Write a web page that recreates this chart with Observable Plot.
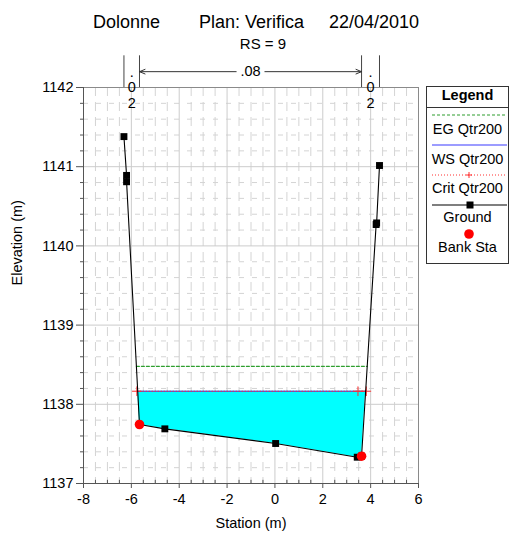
<!DOCTYPE html>
<html>
<head>
<meta charset="utf-8">
<script src="https://cdn.jsdelivr.net/npm/d3@7"></script>
<script src="https://cdn.jsdelivr.net/npm/@observablehq/plot@0.6"></script>
<style>
  body { margin: 0; background: #fff; }
  #wrap { position: relative; width: 512px; height: 541px; font-family: "Liberation Sans", Arial, sans-serif; }
  #wrap svg { position: absolute; left: 0; top: 0; }
</style>
</head>
<body>
<div id="wrap"></div>
<script>
// ---- data ----
const groundStation = [-6.31, -6.20, -6.20, -5.66, -4.60, 0.03, 3.44, 3.62, 4.23, 4.25, 4.37];
const groundElev    = [1141.38, 1140.89, 1140.81, 1137.745, 1137.69, 1137.505, 1137.332, 1137.345, 1140.27, 1140.29, 1141.015];
const bankStation   = [-5.66, 3.62];
const bankElev      = [1137.745, 1137.345];
const wsElev   = 1138.165;   // WS Qtr200
const egElev   = 1138.48;    // EG Qtr200
const critElev = 1138.165;   // Crit Qtr200
const critStation = [-5.77, 3.47, 3.82];
const manningN = [".02", ".08", ".02"];
const xTicks = [-8, -6, -4, -2, 0, 2, 4, 6];
const yTicks = [1137, 1138, 1139, 1140, 1141, 1142];
const titleParts = ["Dolonne", "Plan: Verifica", "22/04/2010"];
const subtitle = "RS = 9";
const legendLabels = ["EG Qtr200", "WS Qtr200", "Crit Qtr200", "Ground", "Bank Sta"];

// ---- derived tables ----
const ground = groundStation.map((s, i) => ({x: s, y: groundElev[i]}));
const banks = bankStation.map((s, i) => ({x: s, y: bankElev[i]}));
const iL = groundStation.indexOf(bankStation[0]);
const iR = groundStation.indexOf(bankStation[1]);

function edges(elev) {
  let left, right;
  for (let i = iL; i > 0; i--) {
    const a = ground[i], b = ground[i - 1];
    if (b.y >= elev) { const t = (elev - a.y) / (b.y - a.y); left = a.x + t * (b.x - a.x); break; }
  }
  for (let i = iR; i < ground.length - 1; i++) {
    const a = ground[i], b = ground[i + 1];
    if (b.y >= elev) { const t = (elev - a.y) / (b.y - a.y); right = a.x + t * (b.x - a.x); break; }
  }
  return [left, right];
}
const [wsL, wsR] = edges(wsElev);
const [egL, egR] = edges(egElev);
const wet = [{x: wsL, y1: wsElev}]
  .concat(ground.filter(d => d.x > wsL && d.x < wsR && d.y <= wsElev).map(d => ({x: d.x, y1: d.y})))
  .concat([{x: wsR, y1: wsElev}]);

const xMinor = d3.range(-8, 6.001, 0.5).filter(v => !xTicks.includes(v));
const yMinor = d3.range(1137, 1142.001, 0.2).map(v => +v.toFixed(1)).filter(v => !yTicks.includes(v));
const xGridMajor = xTicks.filter(v => v > -8 && v < 6);
const yGridMajor = yTicks.filter(v => v > 1137 && v < 1142);

const topY = 1142.4, arrowY = 1142.2;
const leftEnd = groundStation[0], rightEnd = groundStation[groundStation.length - 1];
const mid = (bankStation[0] + bankStation[1]) / 2;
const nLabels = [
  {x: (leftEnd + bankStation[0]) / 2, t: manningN[0].split("").join("\n")},
  {x: (bankStation[1] + rightEnd) / 2, t: manningN[2].split("").join("\n")}
];
const plain = d => String(d);

const chart = Plot.plot({
  width: 512, height: 541,
  marginLeft: 83, marginRight: 94, marginTop: 87, marginBottom: 58,
  x: {domain: [-8, 6]},
  y: {domain: [1137, 1142]},
  style: {fontFamily: "'Liberation Sans', Arial, sans-serif", fontSize: "14px", background: "white", overflow: "visible"},
  marks: [
    Plot.ruleX(xMinor, {stroke: "#d4d4d4", strokeDasharray: "9,6"}),
    Plot.ruleY(yMinor, {stroke: "#d4d4d4", strokeDasharray: "5,8"}),
    Plot.ruleX(xGridMajor, {stroke: "#cccccc"}),
    Plot.ruleY(yGridMajor, {stroke: "#cccccc"}),
    Plot.frame({stroke: "#8a8a8a"}),
    Plot.areaY(wet, {x: "x", y1: "y1", y2: () => wsElev, fill: "#00ffff"}),
    Plot.line([{x: egL, y: egElev}, {x: egR, y: egElev}], {x: "x", y: "y", stroke: "#2e9e2e", strokeWidth: 1.2, strokeDasharray: "3,2"}),
    Plot.line([{x: wsL, y: wsElev}, {x: wsR, y: wsElev}], {x: "x", y: "y", stroke: "#3a3aff", strokeWidth: 1.2}),
    Plot.line(critStation.map(s => ({x: s, y: critElev})), {x: "x", y: "y", stroke: "#ff3030", strokeWidth: 1, strokeDasharray: "1,2"}),
    Plot.dot(critStation.map(s => ({x: s, y: critElev})), {x: "x", y: "y", symbol: "plus", r: 3.2, stroke: "#ff3030", strokeWidth: 1}),
    Plot.line(ground, {x: "x", y: "y", stroke: "#000", strokeWidth: 1.1}),
    Plot.dot(ground, {x: "x", y: "y", symbol: "square", r: 3.9, fill: "#000", stroke: null}),
    Plot.dot(banks, {x: "x", y: "y", r: 4.8, fill: "#ff0000", stroke: null}),
    // axes
    Plot.ruleX([-8], {stroke: "#555"}),
    Plot.ruleY([1137], {stroke: "#555"}),
    Plot.axisY({ticks: yTicks, tickSize: 7, tickPadding: 3, tickFormat: plain, label: null, stroke: "#555", fontSize: 14.5}),
    Plot.axisY({ticks: yMinor, tickSize: 3, tickFormat: () => "", label: null, stroke: "#555"}),
    Plot.axisX({ticks: xTicks, tickSize: 5, tickPadding: 5, tickFormat: plain, label: null, stroke: "#555", fontSize: 14.5}),
    Plot.ruleX(xMinor, {y1: 1137, y2: 1137.04, stroke: "#555"}),
    Plot.text(["Elevation (m)"], {frameAnchor: "left", rotate: -90, dx: -66, fontSize: 14.5}),
    Plot.text(["Station (m)"], {frameAnchor: "bottom", dy: 44, fontSize: 14.5}),
    // Manning's n annotation above the frame
    Plot.ruleX([leftEnd, bankStation[0], bankStation[1], rightEnd], {y1: 1142, y2: topY, stroke: "#444"}),
    Plot.arrow([{x1: mid - 0.6, x2: bankStation[0]}, {x1: mid + 0.6, x2: bankStation[1]}],
      {x1: "x1", x2: "x2", y1: () => arrowY, y2: () => arrowY, stroke: "#333", strokeWidth: 1, headLength: 9, headAngle: 45}),
    Plot.text([manningN[1]], {x: () => mid, y: () => arrowY, fontSize: 14.5}),
    Plot.text(nLabels, {x: "x", y: () => 1142, text: "t", lineHeight: 1.05, fontSize: 14.5})
  ]
});
const wrap = document.getElementById("wrap");
wrap.appendChild(chart);

// ---- title + legend overlay ----
const ov = d3.select(wrap).append("svg").attr("width", 512).attr("height", 541)
  .style("font-family", "'Liberation Sans', Arial, sans-serif").style("pointer-events", "none");
const titleX = [93, 199, 329];
titleParts.forEach((t, i) => ov.append("text").attr("x", titleX[i]).attr("y", 28).attr("font-size", 18).text(t));
ov.append("text").attr("x", 263).attr("y", 49).attr("font-size", 15).attr("text-anchor", "middle").text(subtitle);

const lg = ov.append("g");
lg.append("rect").attr("x", 426.5).attr("y", 86.5).attr("width", 82).attr("height", 177).attr("fill", "white").attr("stroke", "#333");
lg.append("text").attr("x", 467.5).attr("y", 100).attr("font-size", 14.5).attr("font-weight", "bold").attr("text-anchor", "middle").text("Legend");
lg.append("line").attr("x1", 426.5).attr("x2", 508.5).attr("y1", 107.5).attr("y2", 107.5).attr("stroke", "#333");
const sy = [115, 145, 175, 205, 234];
const ty = [134, 164, 193, 222, 252];
lg.append("line").attr("x1", 432).attr("x2", 507).attr("y1", sy[0]).attr("y2", sy[0]).attr("stroke", "#2e9e2e").attr("stroke-width", 1.2).attr("stroke-dasharray", "3,2");
lg.append("line").attr("x1", 432).attr("x2", 507).attr("y1", sy[1]).attr("y2", sy[1]).attr("stroke", "#3a3aff").attr("stroke-width", 1.2);
lg.append("line").attr("x1", 432).attr("x2", 507).attr("y1", sy[2]).attr("y2", sy[2]).attr("stroke", "#ff3030").attr("stroke-dasharray", "1,2");
lg.append("path").attr("d", `M466,${sy[2]}h6M469,${sy[2]-3}v6`).attr("stroke", "#ff3030");
lg.append("line").attr("x1", 432).attr("x2", 507).attr("y1", sy[3]).attr("y2", sy[3]).attr("stroke", "#000").attr("stroke-width", 1.1);
lg.append("rect").attr("x", 466.5).attr("y", sy[3] - 3.5).attr("width", 7).attr("height", 7).attr("fill", "#000");
lg.append("circle").attr("cx", 469).attr("cy", sy[4]).attr("r", 4.8).attr("fill", "#ff0000");
legendLabels.forEach((t, i) => lg.append("text").attr("x", 467.5).attr("y", ty[i]).attr("font-size", 14.5).attr("text-anchor", "middle").text(t));
</script>
</body>
</html>
